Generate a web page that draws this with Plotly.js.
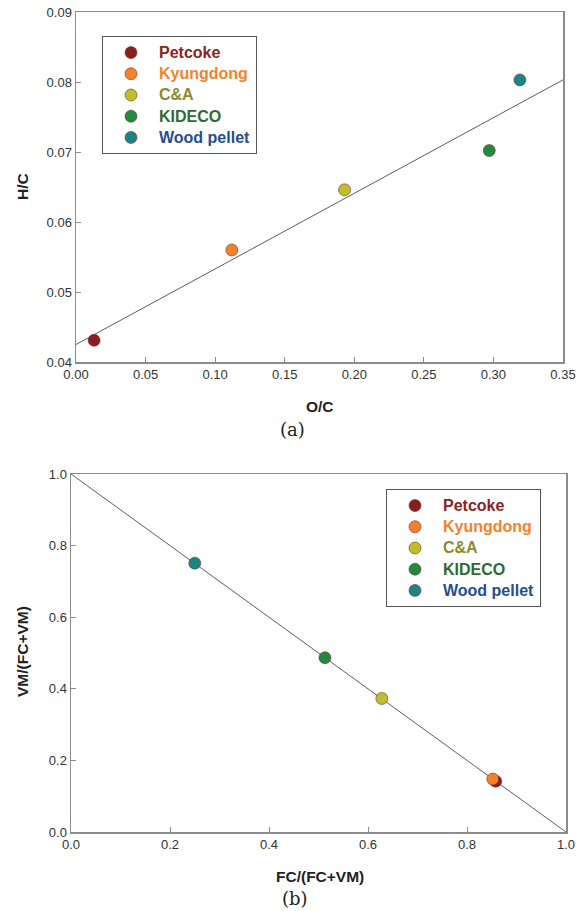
<!DOCTYPE html>
<html>
<head>
<meta charset="utf-8">
<script src="https://cdn.plot.ly/plotly-3.0.1.min.js"></script>
<style>html,body{margin:0;padding:0;background:#fff;}#chart{width:582px;height:911px;}</style>
</head>
<body>
<div id="chart"></div>
<script>
// ---- Data ----
const fuels = ["Petcoke", "Kyungdong", "C&A", "KIDECO", "Wood pellet"];
const markerColors = ["#85201f", "#f5822a", "#bfbf2e", "#1f8a40", "#1b8585"];
const labelColors = ["#8b2323", "#f5822a", "#8c8c2e", "#2e6b30", "#234e93"];

// (a) H/C vs O/C
const ocValues = [0.013, 0.112, 0.193, 0.297, 0.319];
const hcValues = [0.0431, 0.0560, 0.0646, 0.0702, 0.0803];
const fitA_x = [0.0, 0.35];
const fitA_y = [0.0425, 0.0803];

// (b) VM/(FC+VM) vs FC/(FC+VM)
const fcRatio = [0.858, 0.852, 0.628, 0.513, 0.250];
const vmRatio = [0.142, 0.148, 0.373, 0.487, 0.751];
const fitB_x = [0.0, 1.0];
const fitB_y = [1.0, 0.0];

const xTicksA = [0, 0.05, 0.10, 0.15, 0.20, 0.25, 0.30, 0.35];
const yTicksA = [0.04, 0.05, 0.06, 0.07, 0.08, 0.09];
const ticksB = [0, 0.2, 0.4, 0.6, 0.8, 1.0];

// ---- Traces ----
const traces = [];
traces.push({x: fitA_x, y: fitA_y, mode: "lines", line: {color: "#333", width: 0.8},
  xaxis: "x", yaxis: "y", showlegend: false, hoverinfo: "skip"});
traces.push({x: fitB_x, y: fitB_y, mode: "lines", line: {color: "#333", width: 0.8},
  xaxis: "x2", yaxis: "y2", showlegend: false, hoverinfo: "skip"});
fuels.forEach((f, i) => {
  const nm = '<b><span style="color:' + labelColors[i] + ';font-size:16px">' + f.replace("&", "&amp;") + '</span></b>';
  traces.push({x: [ocValues[i]], y: [hcValues[i]], mode: "markers", name: nm,
    marker: {color: markerColors[i], size: 12, line: {color: "#7a2a2a", width: 0.6}},
    xaxis: "x", yaxis: "y", legend: "legend"});
  traces.push({x: [fcRatio[i]], y: [vmRatio[i]], mode: "markers", name: nm,
    marker: {color: markerColors[i], size: 12, line: {color: "#7a2a2a", width: 0.6}},
    xaxis: "x2", yaxis: "y2", legend: "legend2"});
});

const W = 582, H = 911;
const axisCommon = {
  showgrid: false, zeroline: false, showline: true, linecolor: "#8c8c8c", linewidth: 1.5,
  mirror: true, ticks: "inside", ticklen: 5, tickcolor: "#8c8c8c", tickwidth: 1,
  tickfont: {family: "Liberation Sans, Arial, sans-serif", size: 13, color: "#333"}
};

const legendCommon = {
  bgcolor: "#fff", bordercolor: "#555", borderwidth: 1,
  font: {family: "Liberation Sans, Arial, sans-serif", size: 14, color: "#333"},
  xanchor: "left", yanchor: "top", itemwidth: 46, tracegroupgap: 0
};

const ann = (text, x, y, size, fam, angle) => ({
  text: text, x: x / W, y: 1 - y / H, xref: "paper", yref: "paper", showarrow: false,
  xanchor: "center", yanchor: "middle", textangle: angle || 0,
  font: {family: fam, size: size, color: "#222"}
});
const sans = "Liberation Sans, Arial, sans-serif";
const serif = "DejaVu Serif, serif";

const layout = {
  width: W, height: H,
  margin: {l: 0, r: 0, t: 0, b: 0},
  paper_bgcolor: "#fff", plot_bgcolor: "#fff",
  showlegend: true,
  xaxis: Object.assign({}, axisCommon, {domain: [76/W, 563/W], range: [0, 0.35],
    tickvals: xTicksA, ticktext: xTicksA.map(v => v.toFixed(2)), anchor: "y"}),
  yaxis: Object.assign({}, axisCommon, {domain: [1 - 362/H, 1 - 12/H], range: [0.04, 0.09],
    tickvals: yTicksA, ticktext: yTicksA.map(v => v.toFixed(2)), anchor: "x"}),
  xaxis2: Object.assign({}, axisCommon, {domain: [71/W, 566/W], range: [0, 1],
    tickvals: ticksB, ticktext: ticksB.map(v => v.toFixed(1)), anchor: "y2"}),
  yaxis2: Object.assign({}, axisCommon, {domain: [1 - 832/H, 1 - 474/H], range: [0, 1],
    tickvals: ticksB, ticktext: ticksB.map(v => v.toFixed(1)), anchor: "x2"}),
  legend: Object.assign({}, legendCommon, {x: 102/W, y: 1 - 36/H}),
  legend2: Object.assign({}, legendCommon, {x: 386/W, y: 1 - 489/H}),
  annotations: [
    ann("<b>O/C</b>", 320, 406, 15.5, sans),
    ann("<b>H/C</b>", 22, 187, 15.5, sans, -90),
    ann("(a)", 292, 430, 18, serif),
    ann("<b>FC/(FC+VM)</b>", 320, 876, 15.5, sans),
    ann("<b>VM/(FC+VM)</b>", 22, 652, 15.5, sans, -90),
    ann("(b)", 295, 898, 18, serif)
  ]
};

Plotly.newPlot("chart", traces, layout, {staticPlot: true, displayModeBar: false});
</script>
</body>
</html>
